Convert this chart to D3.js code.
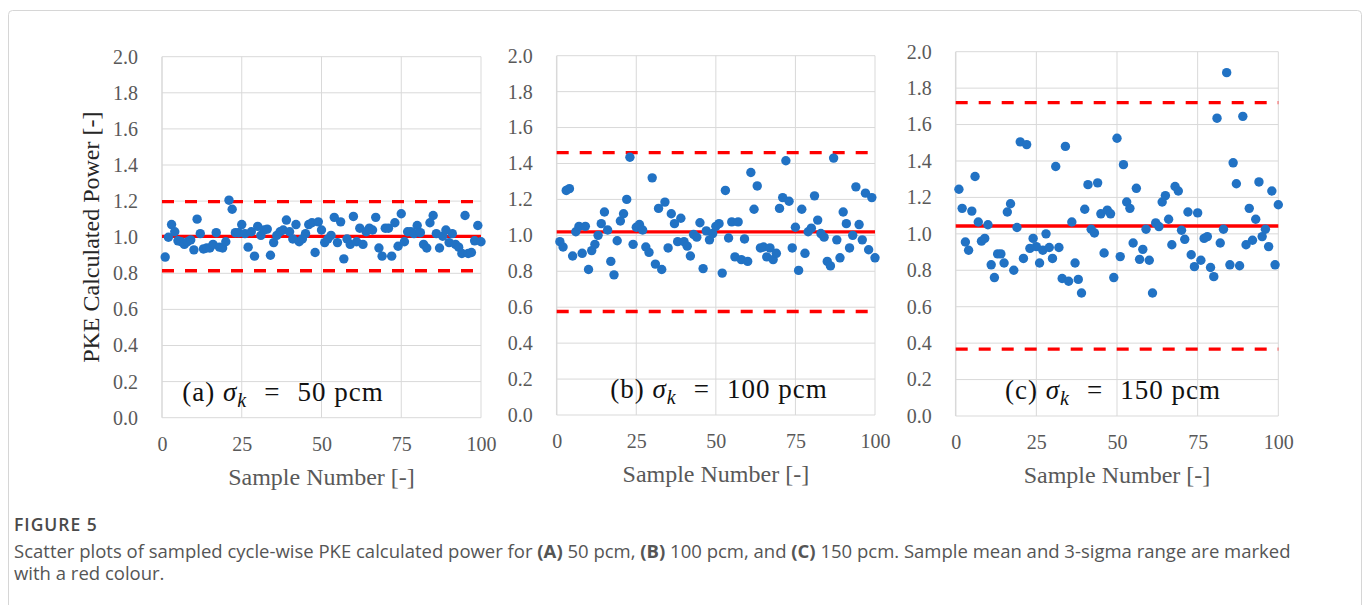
<!DOCTYPE html>
<html lang="en">
    <head>
        <meta charset="utf-8">
        <title>Figure 5</title>
        <script type="text/javascript" src="https://cdnjs.cloudflare.com/ajax/libs/d3/7.8.5/d3.min.js"></script>
        <style>
            body { margin: 0; background: #fff; }
        </style>
    </head>
    <body>
        <script type="text/javascript">
            // sample numbers 1..100 on the x axis
            var sampleNo = d3.range(1, 101);

            // (a) sigma_k = 50 pcm
            var powerA = [0.89, 1.00, 1.07, 1.03, 0.98, 0.975, 0.96, 0.975, 0.985, 0.93,
                          1.10, 1.02, 0.935, 0.94, 0.94, 0.96, 1.025, 0.945, 0.94, 0.975,
                          1.205, 1.155, 1.025, 1.025, 1.07, 1.02, 0.945, 1.03, 0.895, 1.06,
                          1.01, 1.04, 1.045, 0.90, 0.97, 1.01, 1.03, 1.04, 1.095, 1.03,
                          0.99, 1.07, 0.975, 0.99, 1.02, 1.07, 1.08, 0.915, 1.085, 1.04,
                          0.97, 0.99, 1.01, 1.11, 0.97, 1.085, 0.88, 0.99, 0.96, 1.115,
                          0.975, 1.05, 0.96, 1.03, 1.05, 1.04, 1.11, 0.94, 0.895, 1.05,
                          1.05, 0.895, 1.08, 0.95, 1.13, 0.975, 1.03, 1.03, 1.02, 1.065,
                          1.025, 0.96, 0.94, 1.08, 1.12, 1.02, 0.94, 1.005, 1.04, 0.97,
                          1.02, 0.96, 0.945, 0.91, 1.12, 0.91, 0.915, 0.98, 1.065, 0.975];
            // (b) sigma_k = 100 pcm
            var powerB = [0.965, 0.935, 1.25, 1.26, 0.885, 1.02, 1.05, 0.90, 1.05, 0.81,
                          0.915, 0.95, 1.00, 1.065, 1.13, 1.03, 0.855, 0.78, 0.97, 1.08,
                          1.12, 1.20, 1.435, 0.95, 1.045, 1.06, 1.03, 0.935, 0.905, 1.32,
                          0.84, 1.15, 0.81, 1.185, 0.93, 1.12, 1.065, 0.965, 1.095, 0.965,
                          0.94, 0.885, 1.005, 0.99, 1.07, 0.815, 1.025, 0.975, 1.01, 1.05,
                          1.065, 0.79, 1.25, 0.985, 1.075, 0.88, 1.075, 0.865, 0.98, 0.855,
                          1.35, 1.145, 1.275, 0.93, 0.935, 0.88, 0.93, 0.865, 0.90, 1.15,
                          1.21, 1.415, 1.19, 0.93, 1.045, 0.805, 1.145, 0.90, 1.02, 1.04,
                          1.22, 1.085, 1.01, 0.99, 0.855, 0.83, 1.43, 0.975, 0.875, 1.13,
                          1.065, 0.93, 1.00, 1.27, 1.06, 0.975, 1.235, 0.92, 1.21, 0.875];
            // (c) sigma_k = 150 pcm
            var powerC = [1.245, 1.14, 0.955, 0.91, 1.125, 1.315, 1.065, 0.96, 0.975, 1.05,
                          0.83, 0.76, 0.89, 0.89, 0.84, 1.12, 1.165, 0.80, 1.035, 1.505,
                          0.865, 1.49, 0.92, 0.975, 0.93, 0.84, 0.91, 1.00, 0.925, 0.865,
                          1.37, 0.925, 0.755, 1.48, 0.74, 1.065, 0.84, 0.75, 0.675, 1.135,
                          1.27, 1.025, 1.005, 1.28, 1.11, 0.895, 1.13, 1.11, 0.76, 1.525,
                          0.875, 1.38, 1.175, 1.14, 0.95, 1.25, 0.86, 0.915, 1.025, 0.855,
                          0.675, 1.06, 1.04, 1.175, 1.21, 1.08, 0.94, 1.26, 1.235, 1.02,
                          0.97, 1.12, 0.885, 0.82, 1.115, 0.855, 0.975, 0.985, 0.815, 0.765,
                          1.635, 0.95, 1.025, 1.885, 0.83, 1.39, 1.275, 0.825, 1.645, 0.94,
                          1.14, 0.965, 1.08, 1.285, 0.985, 1.025, 0.93, 1.235, 0.83, 1.16];

            // sample mean and mean +/- 3 sigma
            var meanVals = [1.005, 1.019, 1.043];
            var upperVals = [1.197, 1.46, 1.72];
            var lowerVals = [0.814, 0.576, 0.367];
            var sigmaPcm = ['50', '100', '150'];
            var panelTags = ['(a)', '(b)', '(c)'];

            var xTicks = [0, 25, 50, 75, 100];
            var yTicks = [0, 0.2, 0.4, 0.6, 0.8, 1.0, 1.2, 1.4, 1.6, 1.8, 2.0];

            var w = 1370, h = 605;
            var blue = '#2172c4', red = '#ff0000', grid = '#d9d9d9', tickGray = '#595959';
            var serif = '"Liberation Serif", "Times New Roman", serif';

            // plot-area boxes for the three panels
            var boxes = [
                {l: 162, r: 481, t: 56.7, b: 417.7, tagX: 283},
                {l: 556.7, r: 875, t: 55.7, b: 415, tagX: 719},
                {l: 955.7, r: 1278.3, t: 51.7, b: 416, tagX: 1113}
            ];
            var series = [powerA, powerB, powerC];

            var svg = d3.select('body')
                        .append('svg')
                        .attr('width', w)
                        .attr('height', h);

            // outer frame of the figure
            svg.append('rect')
               .attr('x', 8.5).attr('y', 10.5)
               .attr('width', 1353).attr('height', 640)
               .attr('rx', 4)
               .attr('fill', 'none')
               .attr('stroke', '#d6d6d6');

            boxes.forEach(function(bx, p){
                var x = d3.scaleLinear().domain([0, 100]).range([bx.l, bx.r]);
                var y = d3.scaleLinear().domain([0, 2]).range([bx.b, bx.t]);
                var g = svg.append('g');

                // gridlines
                g.selectAll('.hgrid')
                 .data(yTicks)
                 .enter()
                 .append('line')
                 .attr('x1', bx.l).attr('x2', bx.r)
                 .attr('y1', function(d){ return y(d); })
                 .attr('y2', function(d){ return y(d); })
                 .attr('stroke', grid).attr('stroke-width', 1);
                g.selectAll('.vgrid')
                 .data(xTicks)
                 .enter()
                 .append('line')
                 .attr('y1', bx.t).attr('y2', bx.b)
                 .attr('x1', function(d){ return x(d); })
                 .attr('x2', function(d){ return x(d); })
                 .attr('stroke', grid)
                 .attr('stroke-width', function(d){ return d === 0 ? 1.5 : 1; });

                // axes (labels only, Excel style)
                var yAxis = g.append('g')
                             .attr('transform', 'translate(' + bx.l + ',0)')
                             .call(d3.axisLeft(y).tickValues(yTicks).tickSize(0).tickPadding(24)
                                     .tickFormat(d3.format('.1f')));
                var xAxis = g.append('g')
                             .attr('transform', 'translate(0,' + bx.b + ')')
                             .call(d3.axisBottom(x).tickValues(xTicks).tickSize(0).tickPadding(19));
                [yAxis, xAxis].forEach(function(a){
                    a.select('.domain').remove();
                    a.style('font-family', serif).style('font-size', '20px');
                    a.selectAll('text')
                     .style('fill', tickGray)
                     .style('font-family', serif)
                     .style('font-size', '20px');
                });

                // mean and 3-sigma lines
                g.append('line')
                 .attr('x1', x(0)).attr('x2', x(100))
                 .attr('y1', y(meanVals[p])).attr('y2', y(meanVals[p]))
                 .attr('stroke', red).attr('stroke-width', 3.3);
                g.selectAll('.lim')
                 .data([upperVals[p], lowerVals[p]])
                 .enter()
                 .append('line')
                 .attr('x1', x(0)).attr('x2', x(100))
                 .attr('y1', function(d){ return y(d); })
                 .attr('y2', function(d){ return y(d); })
                 .attr('stroke', red).attr('stroke-width', 3.3)
                 .attr('stroke-dasharray', '12,11');

                // samples
                g.selectAll('circle')
                 .data(series[p])
                 .enter()
                 .append('circle')
                 .attr('cx', function(d, i){ return x(sampleNo[i]); })
                 .attr('cy', function(d){ return y(d); })
                 .attr('r', 4.7)
                 .attr('fill', blue);

                // panel tag: (a) sigma_k = 50 pcm
                var tag = g.append('text')
                           .attr('x', bx.tagX)
                           .attr('y', bx.b - 17)
                           .attr('text-anchor', 'middle')
                           .style('font-family', serif)
                           .style('font-size', '27px')
                           .style('letter-spacing', '1px')
                           .attr('fill', '#111');
                tag.append('tspan').text(panelTags[p] + ' ');
                tag.append('tspan').attr('font-style', 'italic').text('σ');
                tag.append('tspan').attr('font-style', 'italic').style('font-size', '20px')
                   .attr('dy', 6).text('k');
                tag.append('tspan').attr('dy', -6).attr('dx', 17).text('=');
                tag.append('tspan').attr('dx', 17).text(sigmaPcm[p] + ' pcm');

                // x title
                g.append('text')
                 .attr('x', (bx.l + bx.r) / 2)
                 .attr('y', bx.b + 67)
                 .attr('text-anchor', 'middle')
                 .style('font-family', serif)
                 .style('font-size', '24px')
                 .attr('fill', tickGray)
                 .text('Sample Number [-]');
            });

            // y title, only on the first panel
            svg.append('text')
               .attr('transform', 'translate(99,' + ((boxes[0].t + boxes[0].b) / 2) + ') rotate(-90)')
               .attr('text-anchor', 'middle')
               .style('font-family', serif)
               .style('font-size', '24px')
               .attr('fill', '#262626')
               .text('PKE Calculated Power [-]');

            // caption
            var capFont = '"Open Sans", "Noto Sans", sans-serif';
            svg.append('text')
               .attr('x', 14).attr('y', 531)
               .style('font-family', capFont)
               .style('font-size', '17.5px')
               .style('letter-spacing', '1px')
               .attr('font-weight', 600)
               .attr('fill', '#4a4a4a')
               .text('FIGURE 5');
            var cap = svg.append('text')
                         .attr('x', 14).attr('y', 557.5)
                         .style('font-family', capFont)
                         .style('font-size', '18.5px')
                         .attr('fill', '#555');
            var parts = [['Scatter plots of sampled cycle-wise PKE calculated power for ', 400],
                         ['(A)', 700], [' 50 pcm, ', 400], ['(B)', 700], [' 100 pcm, and ', 400],
                         ['(C)', 700], [' 150 pcm. Sample mean and 3-sigma range are marked', 400]];
            parts.forEach(function(pt){
                cap.append('tspan').attr('font-weight', pt[1]).text(pt[0]);
            });
            svg.append('text')
               .attr('x', 14).attr('y', 580)
               .style('font-family', capFont)
               .style('font-size', '18.5px')
               .attr('fill', '#555')
               .text('with a red colour.');
        </script>
    </body>
</html>
